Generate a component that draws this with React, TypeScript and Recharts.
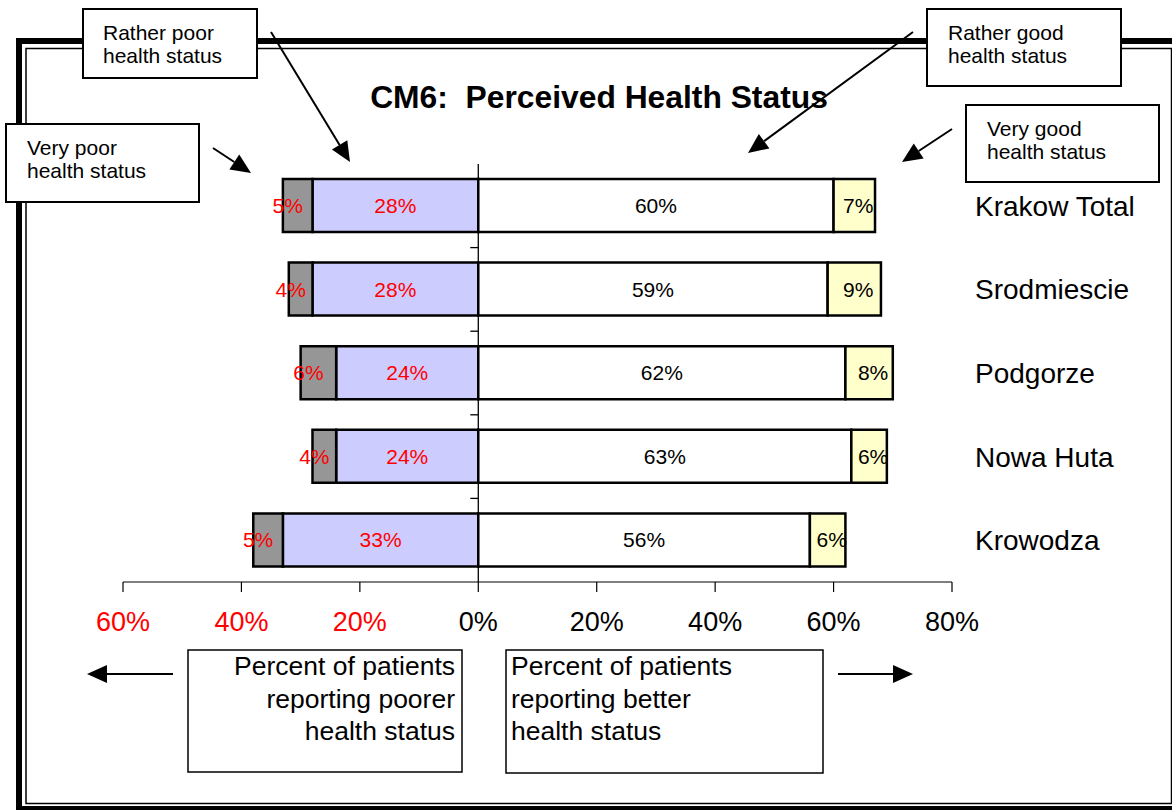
import React from 'react';
import { BarChart, Bar, XAxis, YAxis, ReferenceLine, LabelList } from 'recharts';

const categories = ['Krakow Total', 'Srodmiescie', 'Podgorze', 'Nowa Huta', 'Krowodza'];
const veryPoor = [5, 4, 6, 4, 5];
const ratherPoor = [28, 28, 24, 24, 33];
const ratherGood = [60, 59, 62, 63, 56];
const veryGood = [7, 9, 8, 6, 6];
const xTicks = [-60, -40, -20, 0, 20, 40, 60, 80];

const FONT = '"Liberation Sans", Arial, sans-serif';

// poorer health goes to the left, so those values are negative
const data = categories.map((name, i) => ({
    name,
    ratherPoor: -ratherPoor[i],
    veryPoor: -veryPoor[i],
    ratherGood: ratherGood[i],
    veryGood: veryGood[i],
}));

const pct = (v: any) => `${Math.abs(Number(v))}%`;

const XTick = (props: any) => {
    const { x, y, payload } = props;
    return (
        <text x={x} y={y} dy="0.71em" textAnchor="middle" fontSize={27} fontFamily={FONT}
            fill={payload.value < 0 ? '#FF0000' : '#000'}>
            {pct(payload.value)}
        </text>
    );
};

const YTick = (props: any) => {
    const { x, y, payload } = props;
    return (
        <text x={x} y={y} dy="0.355em" textAnchor="start" fontSize={28} fontFamily={FONT} fill="#000">
            {payload.value}
        </text>
    );
};

// zero line with small tick marks between the categories
const ZeroAxis = (props: any) => {
    const { x1, y1, x2, y2 } = props;
    const step = (y2 - y1) / categories.length;
    return (
        <g>
            <line x1={x1} y1={y1} x2={x2} y2={y2} stroke="#000" strokeWidth={1.3} />
            {categories.slice(1).map((c, i) => (
                <line key={c} x1={x1 - 8} x2={x1} y1={y1 + step * (i + 1)} y2={y1 + step * (i + 1)}
                    stroke="#000" strokeWidth={1.3} />
            ))}
        </g>
    );
};

const Arrow = ({ from, to }: { from: [number, number]; to: [number, number] }) => {
    const dx = to[0] - from[0];
    const dy = to[1] - from[1];
    const len = Math.sqrt(dx * dx + dy * dy);
    const ux = dx / len, uy = dy / len;
    const bx = to[0] - ux * 20, by = to[1] - uy * 20;
    const nx = -uy * 9, ny = ux * 9;
    return (
        <g>
            <line x1={from[0]} y1={from[1]} x2={bx} y2={by} stroke="#000" strokeWidth={2} />
            <polygon points={`${to[0]},${to[1]} ${bx + nx},${by + ny} ${bx - nx},${by - ny}`} fill="#000" />
        </g>
    );
};

const Callout = ({ x, y, w, h, tx, lines, size, baseline, lineGap, anchor = 'start', sw = 2 }: any) => (
    <g>
        <rect x={x} y={y} width={w} height={h} fill="#fff" stroke="#000" strokeWidth={sw} />
        {lines.map((t: string, i: number) => (
            <text key={t} x={tx} y={baseline + i * lineGap} fontSize={size} fontFamily={FONT}
                textAnchor={anchor} fill="#000">
                {t}
            </text>
        ))}
    </g>
);

export default function App() {
    return (
        <div style={{ position: 'absolute', left: 0, top: 0, width: 1172, height: 810, background: '#fff' }}>
            <BarChart
                width={1172}
                height={810}
                data={data}
                layout="vertical"
                stackOffset="sign"
                barSize={53}
                margin={{ top: 164, right: 20, bottom: 168, left: 123 }}
            >
                <XAxis type="number" domain={[-60, 80]} ticks={xTicks} allowDataOverflow
                    tickSize={10} tickMargin={20} height={60}
                    axisLine={{ stroke: '#000', strokeWidth: 1.2 }} tickLine={{ stroke: '#000', strokeWidth: 1.2 }}
                    tick={<XTick />} />
                <YAxis type="category" dataKey="name" orientation="right" width={200}
                    axisLine={false} tickLine={false} tickSize={0} tickMargin={23} tick={<YTick />} />
                <Bar dataKey="ratherPoor" stackId="s" fill="#CCCCFF" stroke="#000" strokeWidth={2.5} isAnimationActive={false}>
                    <LabelList dataKey="ratherPoor" position="center" formatter={pct} fill="#FF0000" fontSize={21} fontFamily={FONT} />
                </Bar>
                <Bar dataKey="veryPoor" stackId="s" fill="#969696" stroke="#000" strokeWidth={2.5} isAnimationActive={false}>
                    <LabelList dataKey="veryPoor" position="center" formatter={pct} fill="#FF0000" fontSize={21} fontFamily={FONT} dx={-10} />
                </Bar>
                <Bar dataKey="ratherGood" stackId="s" fill="#FFFFFF" stroke="#000" strokeWidth={2.5} isAnimationActive={false}>
                    <LabelList dataKey="ratherGood" position="center" formatter={pct} fill="#000" fontSize={21} fontFamily={FONT} />
                </Bar>
                <Bar dataKey="veryGood" stackId="s" fill="#FFFFCC" stroke="#000" strokeWidth={2.5} isAnimationActive={false}>
                    <LabelList dataKey="veryGood" position="center" formatter={pct} fill="#000" fontSize={21} fontFamily={FONT} dx={4} />
                </Bar>
                <ReferenceLine x={0} shape={<ZeroAxis />} />
            </BarChart>

            <svg width={1172} height={810} style={{ position: 'absolute', left: 0, top: 0, pointerEvents: 'none' }}>
                {/* double frame */}
                <rect x={19} y={41} width={1200} height={768} fill="none" stroke="#000" strokeWidth={6} />
                <rect x={26} y={48.5} width={1145.5} height={755} fill="none" stroke="#000" strokeWidth={1.5} />

                <text x={599} y={108} textAnchor="middle" fontSize={31.8} fontWeight="bold" fontFamily={FONT}
                    style={{ whiteSpace: 'pre' }} fill="#000">
                    {'CM6:  Perceived Health Status'}
                </text>

                <Callout x={83} y={9} w={174} h={69} tx={103} baseline={40} lineGap={23} size={21}
                    lines={['Rather poor', 'health status']} />
                <Callout x={927} y={9} w={194} h={77} tx={948} baseline={40} lineGap={23} size={21}
                    lines={['Rather good', 'health status']} />
                <Callout x={6} y={124} w={193} h={78} tx={27} baseline={155} lineGap={23} size={21}
                    lines={['Very poor', 'health status']} />
                <Callout x={966} y={105} w={193} h={77} tx={987} baseline={136} lineGap={23} size={21}
                    lines={['Very good', 'health status']} />
                <Callout x={188} y={650} w={274} h={122} tx={455} baseline={675} lineGap={32.5} size={26.5}
                    anchor="end" sw={1.5} lines={['Percent of patients', 'reporting poorer', 'health status']} />
                <Callout x={506} y={650} w={317} h={123} tx={511} baseline={675} lineGap={32.5} size={26.5}
                    sw={1.5} lines={['Percent of patients', 'reporting better', 'health status']} />

                <Arrow from={[271, 32]} to={[350, 162]} />
                <Arrow from={[213, 148]} to={[251, 173]} />
                <Arrow from={[913, 32]} to={[748, 153]} />
                <Arrow from={[952, 129]} to={[902, 162]} />
                <Arrow from={[173, 674]} to={[87, 674]} />
                <Arrow from={[838, 674]} to={[913, 674]} />
            </svg>
        </div>
    );
}
